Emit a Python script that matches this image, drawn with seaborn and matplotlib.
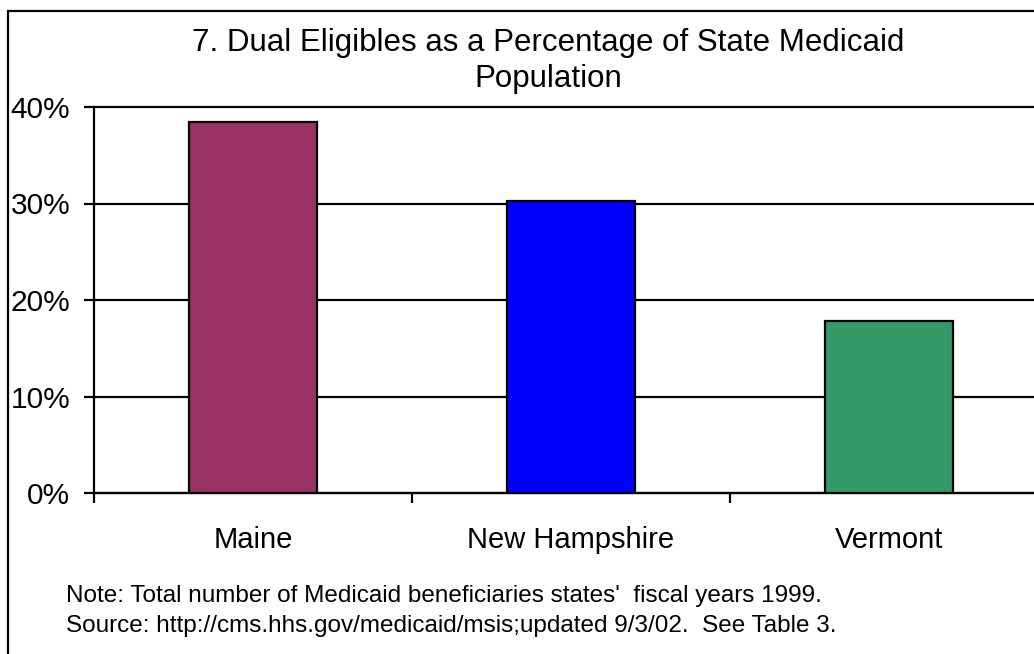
import matplotlib
matplotlib.use("Agg")
import matplotlib.pyplot as plt
import seaborn as sns
import pandas as pd
from matplotlib.patches import Rectangle
from matplotlib.ticker import FixedLocator, PercentFormatter

states = ["Maine", "New Hampshire", "Vermont"]
dual_share = [38.4, 30.3, 17.8]
bar_colors = ["#993366", "#0000FF", "#339966"]
y_ticks = [0, 10, 20, 30, 40]

title = "7. Dual Eligibles as a Percentage of State Medicaid\nPopulation"
note_lines = [
    "Note: Total number of Medicaid beneficiaries states'  fiscal years 1999.",
    "Source: http://cms.hhs.gov/medicaid/msis;updated 9/3/02.  See Table 3.",
]

sns.set_theme(style="white")
plt.rcParams["font.family"] = ["Liberation Sans", "DejaVu Sans"]

W, H = 1034, 654
fig = plt.figure(figsize=(W / 100, H / 100), dpi=100)
fig.patch.set_facecolor("white")

# plot area, extended a little past the right edge like the original layout
left, right, top, bottom = 94, 1048, 107, 493
ax = fig.add_axes([left / W, 1 - bottom / H, (right - left) / W, (bottom - top) / H])

df = pd.DataFrame({"state": states, "share": dual_share})
sns.barplot(data=df, x="state", y="share", hue="state", palette=bar_colors,
            saturation=1, width=0.4, edgecolor="black", linewidth=1.6,
            legend=False, dodge=False, ax=ax, zorder=3)

ax.set_xlim(-0.5, 2.5)
ax.set_ylim(0, 40)
ax.set_yticks(y_ticks)
ax.yaxis.set_major_formatter(PercentFormatter(decimals=0))
ax.yaxis.grid(True, color="black", linewidth=1.6, zorder=0)
ax.set_axisbelow(True)
for gl in ax.get_ygridlines():
    gl.set_clip_on(False)

for side in ["top", "right"]:
    ax.spines[side].set_visible(False)
for side in ["left", "bottom"]:
    ax.spines[side].set_color("black")
    ax.spines[side].set_linewidth(1.6)

ax.set_xlabel("")
ax.set_ylabel("")
ax.tick_params(axis="y", which="major", direction="out", length=7, width=1.6,
               color="black", labelsize=21.5, pad=10, left=True)
ax.tick_params(axis="x", which="major", length=0, labelsize=21, pad=24)
ax.xaxis.set_minor_locator(FixedLocator([-0.5, 0.5, 1.5, 2.5]))
ax.tick_params(axis="x", which="minor", direction="out", length=7, width=1.6,
               color="black", bottom=True)
for lbl in ax.get_xticklabels() + ax.get_yticklabels():
    lbl.set_color("black")

fig.text(548 / W, 1 - 61 / H, title, ha="center", va="center", fontsize=22.5,
         color="black", linespacing=1.27)

fig.text(66 / W, 1 - 596 / H, note_lines[0], ha="left", va="center",
         fontsize=17.5, color="black")
fig.text(66 / W, 1 - 626 / H, note_lines[1], ha="left", va="center",
         fontsize=17.5, color="black")

# outer chart frame (top and left edges visible)
fig.patches.append(Rectangle((8 / W, -0.1), 2.0, (H - 11) / H + 0.1,
                             transform=fig.transFigure, fill=False,
                             edgecolor="black", linewidth=1.6, zorder=10))

fig.savefig("out.png", dpi=100, facecolor="white")
